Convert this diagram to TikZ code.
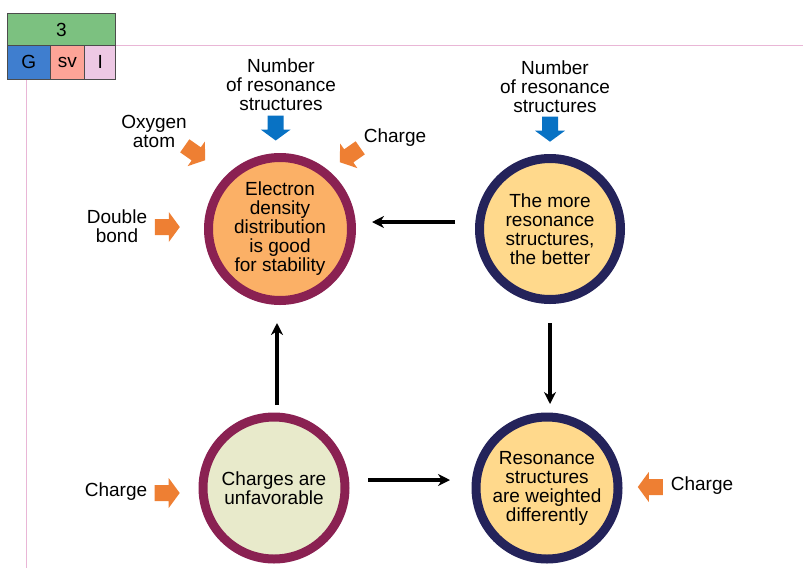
\documentclass[tikz,border=0pt]{standalone}
\usepackage{fontspec}
\setmainfont{Liberation Sans}
\usetikzlibrary{arrows.meta}

\definecolor{ringred}{HTML}{8A2152}
\definecolor{ringnavy}{HTML}{24235A}
\definecolor{fillorange}{HTML}{FBB066}
\definecolor{fillyellow}{HTML}{FFD98C}
\definecolor{fillcream}{HTML}{E8EACB}
\definecolor{arroworange}{HTML}{EE7F33}
\definecolor{arrowblue}{HTML}{0872C4}
\definecolor{hdrgreen}{HTML}{7CC180}
\definecolor{hdrblue}{HTML}{3F7ECF}
\definecolor{hdrsalmon}{HTML}{FDA497}
\definecolor{hdrpink}{HTML}{EDC8E4}
\definecolor{guide}{HTML}{E9B6D6}

\tikzset{
  txt/.style={font=\fontsize{19}{19}\selectfont, align=center, inner sep=0pt},
  bubble/.style={circle, line width=9pt, inner sep=0pt, txt},
  redbubble/.style={bubble, draw=ringred},
  navybubble/.style={bubble, draw=ringnavy},
  flow/.style={line width=3.2pt, -{Stealth[length=12pt,width=12pt]}},
  hdr/.style={draw=black!70, line width=0.8pt, inner sep=0pt,
    font=\fontsize{19}{19}\selectfont},
  pics/blockarrow/.style={code={
    \fill[#1] (-12.5,-8) -- (1.5,-8) -- (1.5,-15) -- (12.5,0)
      -- (1.5,15) -- (1.5,8) -- (-12.5,8) -- cycle;}},
}

\begin{document}
\begin{tikzpicture}[x=1pt, y=-1pt]
\useasboundingbox (0,0) rectangle (803,568);

% guide lines
\draw[guide, line width=1pt] (115.7,45.7) -- (803,45.7);
\draw[guide, line width=1pt] (26,79) -- (26,568);

% header
\node[hdr, fill=hdrgreen, minimum width=108.4pt, minimum height=32.4pt] (hnum) at (61.5,29.5) {3};
\node[hdr, fill=hdrblue, minimum width=42.7pt, minimum height=33.3pt] (hg) at (28.65,62.35) {G};
\node[hdr, fill=hdrsalmon, minimum width=34.7pt, minimum height=33.3pt] (hsv) at (67.35,62.35) {sv};
\node[hdr, fill=hdrpink, minimum width=31pt, minimum height=33.3pt] (hi) at (100.2,62.35) {I};

% circles
\node[redbubble, fill=fillorange, minimum size=143pt] (tl) at (280,229)
  {Electron\\density\\distribution\\is good\\for stability};
\node[navybubble, fill=fillyellow, minimum size=141pt] (tr) at (550,229)
  {The more\\resonance\\structures,\\the better};
\node[redbubble, fill=fillcream, minimum size=142pt] (bl) at (274,488)
  {Charges are\\unfavorable};
\node[navybubble, fill=fillyellow, minimum size=142pt] (br) at (547,488)
  {Resonance\\structures\\are weighted\\differently};

% connectors
\draw[flow, shorten <=20pt, shorten >=16pt] ([yshift=7pt]tr.west) -- ([yshift=7pt]tl.east);
\draw[flow, shorten <=19pt, shorten >=8.5pt] (tr.south) -- (tr.south |- br.north);
\draw[flow, shorten <=7.5pt, shorten >=18pt] ([xshift=3pt]bl.north) -- ([xshift=3pt]bl.north |- tl.south);
\draw[flow, shorten <=18.5pt, shorten >=21.5pt] ([yshift=8pt]bl.east) -- ([yshift=8pt]br.west);

% labels
\node[txt] (lnum) at (281,85) {Number\\of resonance\\structures};
\node[txt] (rnum) at (555,87) {Number\\of resonance\\structures};
\node[txt] (loxy) at (154,131) {Oxygen\\atom};
\node[txt] (lchtop) at (395,138) {Charge};
\node[txt] (ldbl) at (117,226.5) {Double\\bond};
\node[txt] (lchbl) at (116,492) {Charge};
\node[txt] (lchbr) at (702,485.5) {Charge};

% block arrows
\pic[rotate=-90] at (275.7,128) {blockarrow=arrowblue};
\pic[rotate=-90] at (550,129.2) {blockarrow=arrowblue};
\pic[rotate=-35] at (195,153) {blockarrow=arroworange};
\pic[rotate=-145] at (350,155) {blockarrow=arroworange};
\pic at (167.3,227) {blockarrow=arroworange};
\pic at (167.2,493) {blockarrow=arroworange};
\pic[rotate=180] at (650.3,487) {blockarrow=arroworange};
\end{tikzpicture}
\end{document}
